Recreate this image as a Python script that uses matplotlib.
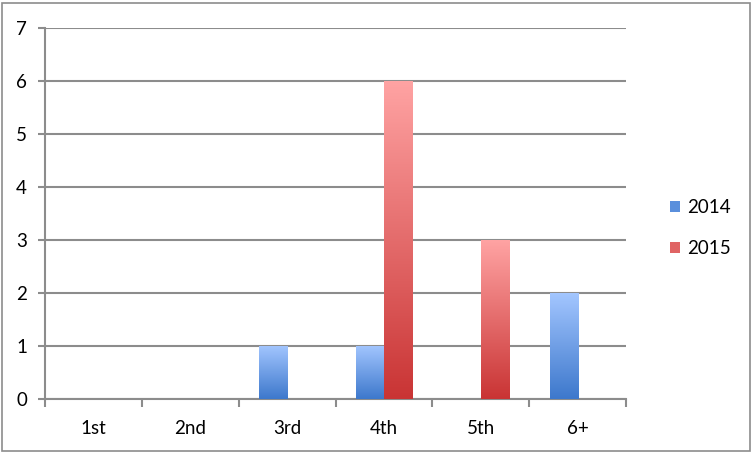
import numpy as np
import matplotlib
matplotlib.use("Agg")
import matplotlib.pyplot as plt
from matplotlib.colors import LinearSegmentedColormap
from matplotlib.patches import Rectangle

categories = ["1st", "2nd", "3rd", "4th", "5th", "6+"]
series_names = ["2014", "2015"]
values_2014 = [0, 0, 1, 1, 0, 2]
values_2015 = [0, 0, 0, 6, 3, 0]
yticks = [0, 1, 2, 3, 4, 5, 6, 7]

plt.rcParams['font.family'] = ['Lato', 'DejaVu Sans']
FS = 13.5

fig = plt.figure(figsize=(7.53, 4.53), dpi=100)
ax = fig.add_axes([45/753, 1-399/453, (626-45)/753, (399-28)/453])

grey = "#8c8c8c"
cmaps = [
    LinearSegmentedColormap.from_list("b", ["#3d78cc", "#a3c6ff"]),
    LinearSegmentedColormap.from_list("r", ["#c93434", "#ffa3a3"]),
]
legend_cols = ["#5a8fdc", "#e06464"]

x = np.arange(len(categories))
w = 0.29
grad = np.linspace(0, 1, 256).reshape(-1, 1)
for i, (vals, cm) in enumerate(zip([values_2014, values_2015], cmaps)):
    offs = -w/2 if i == 0 else w/2
    bars = ax.bar(x + offs, vals, width=w, facecolor="none", edgecolor="none", zorder=3)
    for b in bars:
        h = b.get_height()
        if h <= 0:
            continue
        x0 = b.get_x()
        im = ax.imshow(grad, cmap=cm, origin="lower", aspect="auto",
                       extent=[x0, x0 + w, 0, h], zorder=3)
        im.set_clip_path(b)

ax.set_xlim(-0.5, len(categories) - 0.5)
ax.set_ylim(0, 7)
ax.set_yticks(yticks)
ax.set_yticklabels([str(t) for t in yticks], fontsize=FS)
ax.yaxis.grid(True, color=grey, linewidth=1.5, zorder=0)
ax.set_axisbelow(True)
ax.tick_params(axis="y", length=5, width=1.5, color=grey, pad=8)

ax.set_xticks(np.arange(len(categories) + 1) - 0.5)
ax.set_xticklabels([])
ax.set_xticks(x, minor=True)
ax.set_xticklabels(categories, minor=True, fontsize=FS)
ax.tick_params(axis="x", which="major", length=6, width=1.5, color=grey)
ax.tick_params(axis="x", which="minor", length=0, pad=15)

for s in ["top", "right"]:
    ax.spines[s].set_visible(False)
for s in ["left", "bottom"]:
    ax.spines[s].set_color(grey)
    ax.spines[s].set_linewidth(1.5)

handles = [Rectangle((0, 0), 1, 1, facecolor=c, edgecolor="none") for c in legend_cols]
fig.legend(handles, series_names, loc="center left", bbox_to_anchor=(653/753, 1-228/453),
           frameon=False, fontsize=FS, handlelength=0.55, handleheight=0.55,
           handletextpad=0.35, labelspacing=1.3)

fig.patches.append(Rectangle((2/753, 2/453), 748/753, 448/453, transform=fig.transFigure,
                             fill=False, edgecolor=grey, linewidth=1.2))

fig.savefig("out.png", dpi=100)
